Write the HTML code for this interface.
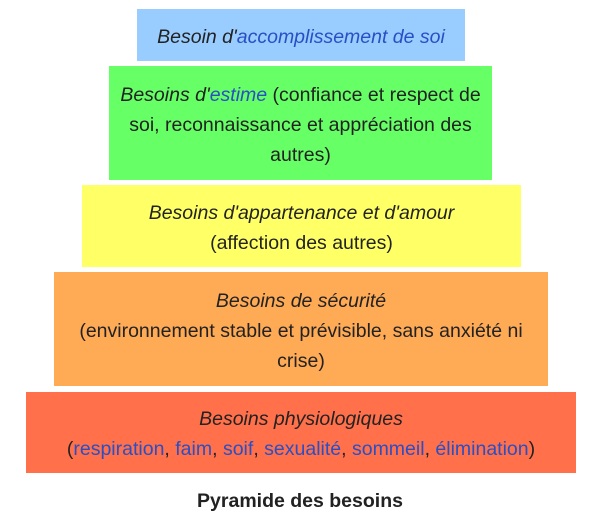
<!DOCTYPE html>
<html><head><meta charset="utf-8"><style>
body{margin:0;width:600px;height:529px;background:#fff;font-family:"Liberation Sans",sans-serif;font-size:19.5px;color:#222;position:relative}
.b{position:absolute;text-align:center;display:flex;flex-direction:column;justify-content:center;line-height:30px;box-sizing:border-box;padding:3px 8px 0}
i{font-style:italic}
a{color:#2a4fc4;text-decoration:none}
</style></head><body>
<div class="b" style="left:137px;top:9px;width:328px;height:52px;background:#99ccff"><div><i>Besoin d'<a>accomplissement de soi</a></i></div></div>
<div class="b" style="left:109px;top:66px;width:383px;height:114px;background:#66ff66"><div><i>Besoins d'<a>estime</a></i> (confiance et respect de soi, reconnaissance et appréciation des autres)</div></div>
<div class="b" style="left:82px;top:185px;width:439px;height:82px;background:#ffff66"><div><i>Besoins d'appartenance et d'amour</i><br>(affection des autres)</div></div>
<div class="b" style="left:54px;top:272px;width:494px;height:114px;background:#ffaa55"><div><i>Besoins de sécurité</i><br>(environnement stable et prévisible, sans anxiété ni crise)</div></div>
<div class="b" style="left:26px;top:392px;width:550px;height:81px;background:#ff704b"><div><i>Besoins physiologiques</i><br>(<a>respiration</a>, <a>faim</a>, <a>soif</a>, <a>sexualité</a>, <a>sommeil</a>, <a>élimination</a>)</div></div>
<div style="position:absolute;left:0;width:600px;top:490px;text-align:center;font-weight:bold;font-size:19.5px">Pyramide des besoins</div>
</body></html>
